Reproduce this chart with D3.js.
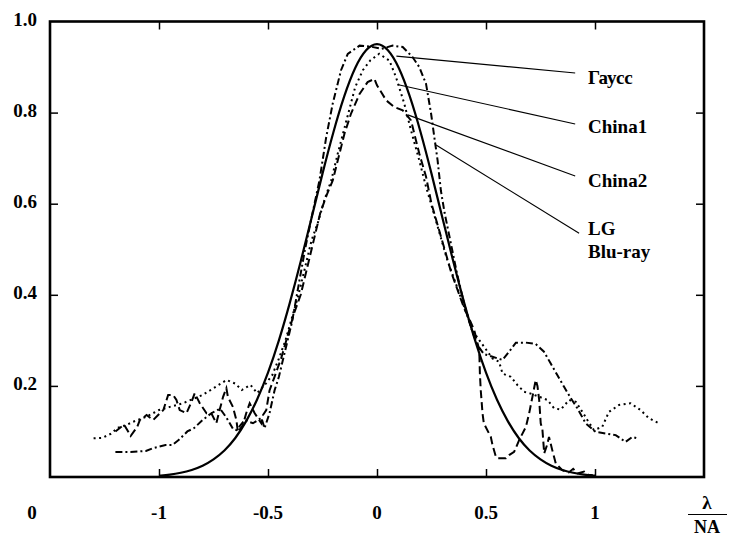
<!DOCTYPE html>
<html>
<head>
<meta charset="utf-8">
<script src="https://cdn.jsdelivr.net/npm/d3@7"></script>
<style>
  html, body { margin: 0; padding: 0; background: #fff; }
  svg { display: block; }
</style>
</head>
<body>
<script>
// Gauss (solid)
const gauss = [
  [-1.0, 0.003], [-0.95, 0.005], [-0.9, 0.009], [-0.85, 0.015], [-0.8, 0.024],
  [-0.75, 0.038], [-0.7, 0.057], [-0.65, 0.084], [-0.6, 0.121], [-0.55, 0.168],
  [-0.5, 0.227], [-0.45, 0.298], [-0.4, 0.381], [-0.35, 0.472], [-0.3, 0.569],
  [-0.25, 0.667], [-0.2, 0.759], [-0.15, 0.839], [-0.1, 0.902], [-0.05, 0.941],
  [0, 0.955], [0.05, 0.941], [0.1, 0.902], [0.15, 0.839], [0.2, 0.759],
  [0.25, 0.667], [0.3, 0.569], [0.35, 0.472], [0.4, 0.381], [0.45, 0.298],
  [0.5, 0.227], [0.55, 0.168], [0.6, 0.121], [0.65, 0.084], [0.7, 0.057],
  [0.75, 0.038], [0.8, 0.024], [0.85, 0.015], [0.9, 0.009], [0.95, 0.005], [1.0, 0.003]
];

// China1 (dotted)
const china1 = [
  [-1.3, 0.085], [-1.26, 0.086], [-1.22, 0.095], [-1.19, 0.108], [-1.15, 0.114],
  [-1.12, 0.121], [-1.06, 0.132], [-1.0, 0.147], [-0.95, 0.154], [-0.89, 0.162],
  [-0.84, 0.172], [-0.8, 0.18], [-0.74, 0.198], [-0.69, 0.213], [-0.65, 0.205],
  [-0.62, 0.191], [-0.58, 0.202], [-0.55, 0.184], [-0.51, 0.205], [-0.48, 0.224],
  [-0.45, 0.26], [-0.42, 0.3], [-0.39, 0.35], [-0.36, 0.4], [-0.33, 0.46],
  [-0.3, 0.52], [-0.27, 0.56], [-0.24, 0.61], [-0.21, 0.651], [-0.18, 0.71],
  [-0.14, 0.783], [-0.1, 0.856], [-0.065, 0.893], [-0.03, 0.915], [0.01, 0.929],
  [0.057, 0.914], [0.087, 0.878], [0.125, 0.82], [0.156, 0.761], [0.194, 0.695],
  [0.225, 0.637], [0.26, 0.58], [0.29, 0.53], [0.32, 0.48], [0.35, 0.44],
  [0.38, 0.4], [0.41, 0.36], [0.44, 0.32], [0.47, 0.3], [0.5, 0.28],
  [0.53, 0.26], [0.56, 0.253], [0.576, 0.227], [0.614, 0.22], [0.644, 0.202],
  [0.675, 0.187], [0.706, 0.183], [0.75, 0.175], [0.782, 0.169], [0.812, 0.151],
  [0.843, 0.148], [0.881, 0.169], [0.912, 0.165], [0.942, 0.143], [0.965, 0.125],
  [0.995, 0.103], [1.033, 0.11], [1.064, 0.143], [1.11, 0.158], [1.163, 0.162],
  [1.209, 0.147], [1.247, 0.129], [1.293, 0.118], [1.3, 0.117]
];

// China2 (dashed)
const china2 = [
  [-1.2, 0.1], [-1.16, 0.115], [-1.13, 0.09], [-1.1, 0.11], [-1.088, 0.125],
  [-1.057, 0.136], [-1.027, 0.125], [-0.996, 0.14], [-0.98, 0.147], [-0.958, 0.18],
  [-0.935, 0.18], [-0.92, 0.169], [-0.905, 0.147], [-0.874, 0.14], [-0.851, 0.165],
  [-0.836, 0.184], [-0.813, 0.162], [-0.782, 0.14], [-0.76, 0.14], [-0.737, 0.118],
  [-0.722, 0.147], [-0.706, 0.176], [-0.691, 0.195], [-0.684, 0.176], [-0.661, 0.154],
  [-0.645, 0.125], [-0.638, 0.099], [-0.615, 0.114], [-0.6, 0.14], [-0.584, 0.162],
  [-0.561, 0.14], [-0.531, 0.118], [-0.523, 0.136], [-0.508, 0.147], [-0.493, 0.19],
  [-0.47, 0.22], [-0.44, 0.26], [-0.41, 0.31], [-0.38, 0.36], [-0.35, 0.4],
  [-0.32, 0.46], [-0.29, 0.52], [-0.26, 0.58], [-0.23, 0.62], [-0.203, 0.651],
  [-0.18, 0.695], [-0.149, 0.754], [-0.119, 0.798], [-0.08, 0.841], [-0.043, 0.867],
  [-0.012, 0.874], [0.0, 0.86], [0.019, 0.845], [0.042, 0.827], [0.08, 0.812],
  [0.118, 0.805], [0.156, 0.783], [0.171, 0.754], [0.194, 0.71], [0.225, 0.659],
  [0.25, 0.6], [0.28, 0.55], [0.31, 0.5], [0.34, 0.45], [0.37, 0.41],
  [0.4, 0.37], [0.43, 0.34], [0.446, 0.322], [0.469, 0.279], [0.472, 0.227],
  [0.476, 0.19], [0.484, 0.14], [0.49, 0.118], [0.522, 0.088], [0.53, 0.07],
  [0.545, 0.045], [0.553, 0.041], [0.591, 0.041], [0.606, 0.048], [0.629, 0.055],
  [0.652, 0.081], [0.683, 0.11], [0.698, 0.14], [0.713, 0.176], [0.728, 0.213],
  [0.736, 0.2], [0.744, 0.169], [0.751, 0.118], [0.759, 0.103], [0.767, 0.052],
  [0.78, 0.07], [0.789, 0.088], [0.804, 0.059], [0.82, 0.03], [0.85, 0.015],
  [0.88, 0.01], [0.9, 0.018], [0.92, 0.008], [0.95, 0.012], [0.97, 0.005], [0.99, 0.004]
];

// LG Blu-ray (dash-dot)
const lgBluray = [
  [-1.2, 0.055], [-1.13, 0.055], [-1.06, 0.057], [-1.03, 0.063], [-0.97, 0.07],
  [-0.94, 0.07], [-0.91, 0.081], [-0.87, 0.1], [-0.84, 0.107], [-0.8, 0.125],
  [-0.76, 0.14], [-0.72, 0.15], [-0.69, 0.13], [-0.66, 0.105], [-0.645, 0.103],
  [-0.607, 0.125], [-0.569, 0.118], [-0.53, 0.13], [-0.516, 0.107], [-0.493, 0.14],
  [-0.47, 0.19], [-0.45, 0.22], [-0.42, 0.28], [-0.39, 0.34], [-0.36, 0.42],
  [-0.33, 0.5], [-0.3, 0.57], [-0.264, 0.651], [-0.233, 0.746], [-0.203, 0.82],
  [-0.165, 0.893], [-0.134, 0.929], [-0.08, 0.947], [-0.03, 0.945], [0.02, 0.94],
  [0.072, 0.947], [0.118, 0.944], [0.163, 0.922], [0.194, 0.9], [0.225, 0.863],
  [0.248, 0.798], [0.263, 0.746], [0.278, 0.695], [0.293, 0.629], [0.31, 0.58],
  [0.34, 0.51], [0.37, 0.44], [0.4, 0.38], [0.43, 0.33], [0.46, 0.29],
  [0.49, 0.27], [0.53, 0.264], [0.576, 0.257], [0.606, 0.275], [0.637, 0.295],
  [0.683, 0.295], [0.728, 0.292], [0.766, 0.275], [0.797, 0.249], [0.827, 0.224],
  [0.858, 0.198], [0.889, 0.173], [0.919, 0.151], [0.957, 0.118], [1.003, 0.099],
  [1.041, 0.096], [1.095, 0.092], [1.14, 0.077], [1.171, 0.088], [1.194, 0.085]
];

const xTicks = [-1, -0.5, 0, 0.5, 1];
const xTickLabels = ['-1', '-0.5', '0', '0.5', '1'];
const yTicks = [0.2, 0.4, 0.6, 0.8, 1.0];
const yTickLabels = ['0.2', '0.4', '0.6', '0.8', '1.0'];

// leader lines: curve point -> label point, label text lines
const labelNames = [['Гаусс'], ['China1'], ['China2'], ['LG', 'Blu-ray']];
const leaderFrom = [[0.089, 0.924], [0.098, 0.861], [0.141, 0.795], [0.271, 0.729]];
const leaderTo = [[0.909, 0.887], [0.909, 0.775], [0.909, 0.661], [0.927, 0.535]];
const labelAt = [[0.968, 0.877], [0.968, 0.769], [0.968, 0.65], [0.968, 0.544]];

const width = 729;
const height = 537;
const plotLeft = 50;
const plotRight = 704;
const plotTop = 21.5;
const plotBottom = 477;
const tickLen = 8;
const font = "'Liberation Serif', 'Times New Roman', Times, 'DejaVu Serif', serif";

const svg = d3
  .select('body')
  .append('svg')
  .attr('width', width)
  .attr('height', height)
  .attr('font-family', font)
  .attr('font-weight', 'bold');

const x = d3.scaleLinear().domain([-1.5, 1.5]).range([plotLeft, plotRight]);
const y = d3.scaleLinear().domain([0, 1]).range([plotBottom, plotTop]);

const line = d3
  .line()
  .x(d => x(d[0]))
  .y(d => y(d[1]));

const curves = [
  { data: gauss, dash: null, smooth: true },
  { data: china1, dash: '2,3.5', smooth: false },
  { data: china2, dash: '8,4', smooth: false },
  { data: lgBluray, dash: '7,3,2,3', smooth: false }
];

curves.forEach(c => {
  svg
    .append('path')
    .datum(c.data)
    .attr('fill', 'none')
    .attr('stroke', '#000')
    .attr('stroke-width', c.smooth ? 2.2 : 2)
    .attr('stroke-dasharray', c.dash)
    .attr('d', line.curve(c.smooth ? d3.curveBasis : d3.curveLinear));
});

// frame with inner ticks on all sides
const axisG = svg.append('g');
axisG
  .append('g')
  .attr('transform', `translate(0, ${plotBottom})`)
  .call(d3.axisTop(x).tickValues(xTicks).tickSize(tickLen).tickFormat(''));
axisG
  .append('g')
  .attr('transform', `translate(0, ${plotTop})`)
  .call(d3.axisBottom(x).tickValues(xTicks).tickSize(tickLen).tickFormat(''));
axisG
  .append('g')
  .attr('transform', `translate(${plotLeft}, 0)`)
  .call(d3.axisRight(y).tickValues(yTicks.slice(0, 4)).tickSize(tickLen).tickFormat(''));
axisG
  .append('g')
  .attr('transform', `translate(${plotRight}, 0)`)
  .call(d3.axisLeft(y).tickValues(yTicks.slice(0, 4)).tickSize(tickLen).tickFormat(''));
axisG.selectAll('.domain').remove();
axisG.selectAll('.tick line').attr('stroke', '#000').attr('stroke-width', 1.5);

svg
  .append('rect')
  .attr('x', plotLeft)
  .attr('y', plotTop)
  .attr('width', plotRight - plotLeft)
  .attr('height', plotBottom - plotTop)
  .attr('fill', 'none')
  .attr('stroke', '#000')
  .attr('stroke-width', 2.6);

// tick labels
svg
  .selectAll('.xlab')
  .data(xTicks)
  .enter()
  .append('text')
  .attr('class', 'xlab')
  .attr('x', d => x(d))
  .attr('y', 519)
  .attr('text-anchor', 'middle')
  .attr('font-size', 19)
  .text((d, i) => xTickLabels[i]);

svg
  .append('text')
  .attr('x', 32)
  .attr('y', 519)
  .attr('text-anchor', 'middle')
  .attr('font-size', 19)
  .text('0');

svg
  .selectAll('.ylab')
  .data(yTicks)
  .enter()
  .append('text')
  .attr('class', 'ylab')
  .attr('x', 37)
  .attr('y', d => y(d) + 4)
  .attr('text-anchor', 'end')
  .attr('font-size', 19)
  .text((d, i) => yTickLabels[i]);

// axis unit λ / NA
svg
  .append('text')
  .attr('x', 707)
  .attr('y', 509)
  .attr('text-anchor', 'middle')
  .attr('font-size', 19)
  .text('λ');
svg
  .append('line')
  .attr('x1', 688)
  .attr('x2', 727)
  .attr('y1', 514.5)
  .attr('y2', 514.5)
  .attr('stroke', '#000')
  .attr('stroke-width', 1.2);
svg
  .append('text')
  .attr('x', 707)
  .attr('y', 533)
  .attr('text-anchor', 'middle')
  .attr('font-size', 18)
  .text('NA');

// leader lines and labels
labelNames.forEach((names, i) => {
  svg
    .append('line')
    .attr('x1', x(leaderFrom[i][0]))
    .attr('y1', y(leaderFrom[i][1]))
    .attr('x2', x(leaderTo[i][0]))
    .attr('y2', y(leaderTo[i][1]))
    .attr('stroke', '#000')
    .attr('stroke-width', 1.1);

  const t = svg
    .append('text')
    .attr('x', x(labelAt[i][0]))
    .attr('y', y(labelAt[i][1]) + 6)
    .attr('font-size', 19);
  names.forEach((n, j) => {
    t.append('tspan')
      .attr('x', x(labelAt[i][0]))
      .attr('dy', j === 0 ? 0 : 22.5)
      .text(n);
  });
});
</script>
</body>
</html>
